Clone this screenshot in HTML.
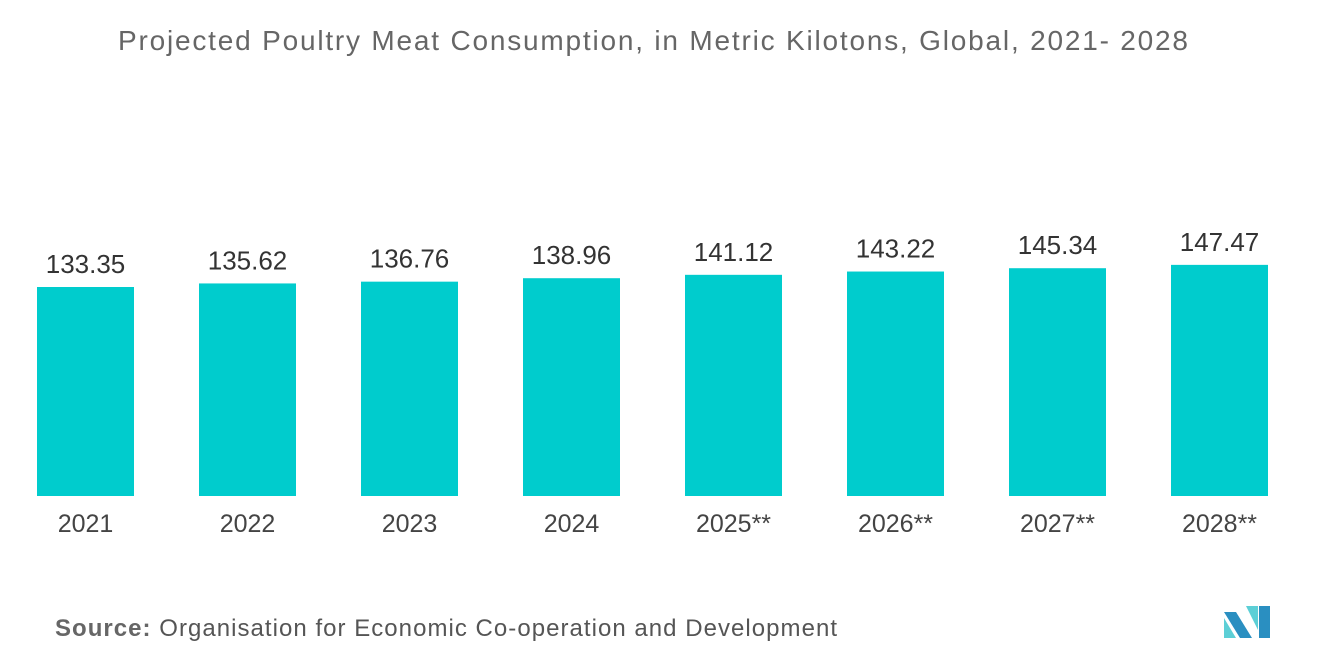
<!DOCTYPE html>
<html><head><meta charset="utf-8"><style>
body{margin:0;background:#fff;font-family:"Liberation Sans",sans-serif;}
svg{display:block}
</style></head><body>
<svg width="1320" height="665" viewBox="0 0 1320 665">
<text x="118" y="50" font-size="28" fill="#666" textLength="1070" lengthAdjust="spacing">Projected Poultry Meat Consumption, in Metric Kilotons, Global,  2021- 2028</text>
<g id="bars"></g>
<text x="55" y="636" font-size="24" fill="#555" textLength="782" lengthAdjust="spacing"><tspan font-weight="bold" fill="#666">Source:</tspan>  Organisation for Economic Co-operation and Development</text>
<g>
<polygon points="1224,612 1236,612 1252,638 1240,638" fill="#2a8fc1"/>
<polygon points="1224,618 1236,638 1224,638" fill="#5ccfd6"/>
<polygon points="1246,606 1258,606 1258,630" fill="#5ccfd6"/>
<polygon points="1259,606 1270,606 1270,638 1259,638" fill="#2a8fc1"/>
</g>
</svg>
<script>
const categories=["2021","2022","2023","2024","2025**","2026**","2027**","2028**"];
const values=[133.35,135.62,136.76,138.96,141.12,143.22,145.34,147.47];
const valueLabels=["133.35","135.62","136.76","138.96","141.12","143.22","145.34","147.47"];
const baseline=496, pxPerUnit=209/133.35, firstCenter=85.5, step=162, barW=97;
const x=i=>firstCenter+i*step;
const y=v=>baseline-v*pxPerUnit;
const g=document.getElementById('bars');
const ns="http://www.w3.org/2000/svg";
values.forEach((v,i)=>{
  const r=document.createElementNS(ns,'rect');
  
  
  r.setAttribute('x',x(i)-barW/2);r.setAttribute('y',y(v));
  r.setAttribute('width',barW);r.setAttribute('height',baseline-y(v));
  r.setAttribute('fill','#00cccd');g.appendChild(r);
  const t=document.createElementNS(ns,'text');
  
  
  t.setAttribute('x',x(i));t.setAttribute('y',y(v)-14);
  t.setAttribute('text-anchor','middle');t.setAttribute('font-size','26');t.setAttribute('fill','#333');
  t.textContent=valueLabels[i];g.appendChild(t);
  const c=document.createElementNS(ns,'text');
  
  
  c.setAttribute('x',x(i));c.setAttribute('y',532);
  c.setAttribute('text-anchor','middle');c.setAttribute('font-size','25');c.setAttribute('fill','#444');
  c.textContent=categories[i];g.appendChild(c);
});
</script>
</body></html>
